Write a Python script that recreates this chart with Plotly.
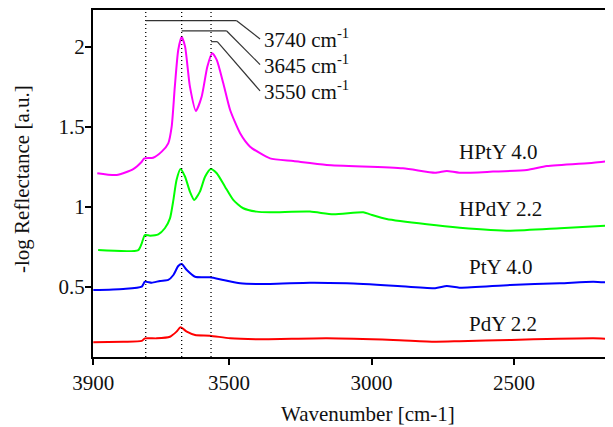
import plotly.graph_objects as go

# ---------------- data (wavenumber in cm-1, -log R in a.u.) ----------------
hpty_x = [3962, 3894, 3836, 3806, 3797, 3766, 3736, 3713, 3701, 3690, 3678, 3666, 3654, 3637,
          3616, 3596, 3576, 3559, 3543, 3520, 3496, 3461, 3426, 3391, 3356, 3274, 3157, 2890,
          2777, 2736, 2692, 2574, 2455, 2385, 2222, 2153]
hpty_y = [1.211, 1.200, 1.237, 1.283, 1.304, 1.308, 1.346, 1.398, 1.502, 1.752, 1.981, 2.064, 2.002, 1.752,
          1.600, 1.689, 1.877, 1.961, 1.919, 1.773, 1.606, 1.461, 1.377, 1.336, 1.304, 1.287, 1.263, 1.242,
          1.214, 1.225, 1.214, 1.221, 1.231, 1.256, 1.277, 1.289]

hpdy_x = [3959, 3818, 3806, 3795, 3777, 3748, 3725, 3707, 3695, 3684, 3670, 3654, 3637, 3622,
          3602, 3584, 3564, 3543, 3514, 3485, 3450, 3403, 3356, 3216, 3134, 3029, 3005, 2947,
          2806, 2690, 2514, 2339, 2153]
hpdy_y = [0.731, 0.731, 0.773, 0.825, 0.821, 0.829, 0.867, 0.929, 1.044, 1.169, 1.238, 1.189, 1.096, 1.044,
          1.096, 1.189, 1.238, 1.211, 1.127, 1.044, 0.992, 0.971, 0.967, 0.971, 0.954, 0.967, 0.954, 0.925,
          0.892, 0.871, 0.852, 0.867, 0.886]

pty_x = [3976, 3871, 3806, 3795, 3771, 3742, 3713, 3695, 3678, 3666, 3648, 3619, 3567, 3520,
         3461, 3356, 3216, 3087, 2924, 2777, 2736, 2692, 2514, 2339, 2222, 2153]
pty_y = [0.481, 0.488, 0.502, 0.533, 0.527, 0.538, 0.544, 0.575, 0.631, 0.644, 0.606, 0.564, 0.561, 0.544,
         0.523, 0.519, 0.527, 0.523, 0.508, 0.492, 0.506, 0.496, 0.513, 0.523, 0.533, 0.525]

pdy_x = [3976, 3871, 3806, 3795, 3754, 3707, 3684, 3670, 3648, 3619, 3567, 3496, 3391, 3157,
         2924, 2777, 2692, 2514, 2222, 2153]
pdy_y = [0.154, 0.158, 0.163, 0.179, 0.179, 0.189, 0.221, 0.248, 0.221, 0.200, 0.196, 0.179, 0.173, 0.179,
         0.169, 0.158, 0.161, 0.169, 0.179, 0.175]

series_names = ["HPtY 4.0", "HPdY 2.2", "PtY 4.0", "PdY 2.2"]
series_colors = ["#ff00ff", "#00ff00", "#0000ff", "#ff0000"]
series_x = [hpty_x, hpdy_x, pty_x, pdy_x]
series_y = [hpty_y, hpdy_y, pty_y, pdy_y]

# series label positions (x, y in data units)
label_x = [2555, 2549, 2549, 2540]
label_y = [1.346, 0.986, 0.623, 0.269]

# band markers
band_labels = ["3740 cm<sup>-1</sup>", "3645 cm<sup>-1</sup>", "3550 cm<sup>-1</sup>"]
band_pos = [3792, 3666, 3563]
band_bar_end = [3473, 3508, 3541]
band_bar_y = [2.164, 2.100, 2.033]
band_text_y = [2.050, 1.890, 1.725]
band_text_x = 3391

x_tickvals = [3976, 3500, 3000, 2500]
x_ticktext = ["3900", "3500", "3000", "2500"]
y_tickvals = [0.5, 1.0, 1.5, 2.0]
y_ticktext = ["0.5", "1", "1.5", "2"]

x_title = "Wavenumber [cm-1]"
y_title = "-log Reflectance [a.u.]"

X_RANGE = [3977, 2153]
Y_RANGE = [0.0625, 2.231]

FONT = "Liberation Serif, Times New Roman, serif"

fig = go.Figure()
for name, col, xs, ys in zip(series_names, series_colors, series_x, series_y):
    fig.add_trace(go.Scatter(x=xs, y=ys, mode="lines", name=name,
                             line=dict(color=col, width=2, shape="spline", smoothing=0.6),
                             showlegend=False))

for name, lx, ly in zip(series_names, label_x, label_y):
    fig.add_annotation(x=lx, y=ly, text=name, showarrow=False, xref="x", yref="y",
                       font=dict(family=FONT, size=21, color="#111111"))

for pos, bend, by, ty, lab in zip(band_pos, band_bar_end, band_bar_y, band_text_y, band_labels):
    fig.add_shape(type="line", x0=pos, x1=pos, y0=0, y1=1, xref="x", yref="paper",
                  line=dict(color="black", width=1.3, dash="1px,3px"))
    fig.add_shape(type="line", x0=pos, x1=bend, y0=by, y1=by, xref="x", yref="y",
                  line=dict(color="#333333", width=1.2))
    fig.add_shape(type="line", x0=bend, x1=band_text_x, y0=by, y1=ty, xref="x", yref="y",
                  line=dict(color="#333333", width=1.2))
    fig.add_annotation(x=band_text_x, y=ty, text=lab, showarrow=False, xref="x", yref="y",
                       xanchor="left", yanchor="middle", xshift=2,
                       font=dict(family=FONT, size=21, color="#111111"))

# axis titles as annotations, placed where the reference has them
fig.add_annotation(x=-0.1365, y=0.513, xref="paper", yref="paper", text=y_title,
                   textangle=-90, showarrow=False, xanchor="center", yanchor="middle",
                   font=dict(family=FONT, size=21, color="#111111"))
fig.add_annotation(x=0.528, y=-0.165, xref="paper", yref="paper", text=x_title,
                   showarrow=False, xanchor="center", yanchor="middle",
                   font=dict(family=FONT, size=21, color="#111111"))

# page body has an 8px margin, so the figure is 8px smaller than the window
fig.update_layout(
    width=605, height=419,
    margin=dict(l=85, r=0, t=2, b=70, autoexpand=False),
    paper_bgcolor="white", plot_bgcolor="white",
    font=dict(family=FONT, size=21, color="#111111"),
    xaxis=dict(range=X_RANGE, tickvals=x_tickvals, ticktext=x_ticktext,
               showline=True, linecolor="black", linewidth=2, mirror=True,
               ticks="outside", ticklen=6, tickwidth=1.5, tickcolor="black",
               showgrid=False, zeroline=False, automargin=False),
    yaxis=dict(range=Y_RANGE, tickvals=y_tickvals, ticktext=y_ticktext,
               showline=True, linecolor="black", linewidth=2,
               ticks="outside", ticklen=6, tickwidth=1.5, tickcolor="black",
               ticklabelstandoff=-4, automargin=False,
               showgrid=False, zeroline=False),
)

fig.write_html("out.html")
